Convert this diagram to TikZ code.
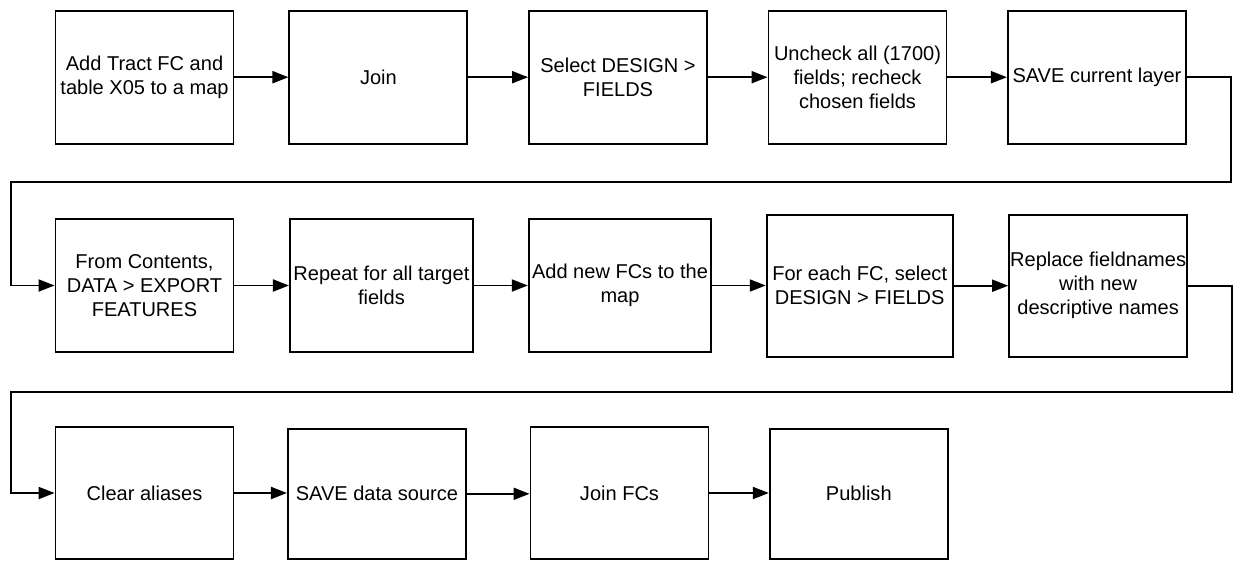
\documentclass[tikz,border=0pt]{standalone}
\usepackage{fontspec}
\setmainfont{Liberation Sans}
\usetikzlibrary{arrows.meta, positioning}

\tikzset{
  stepbox/.style={draw, line width=1.1pt, minimum width=3.56cm, minimum height=2.66cm,
    align=center, inner sep=0.5pt, font=\fontsize{11.4}{13.66}\selectfont},
  flow/.style={line width=1.1pt, -{Triangle[length=0.32cm, width=0.24cm]}},
}

\begin{document}
\begin{tikzpicture}[x=0.02cm, y=-0.02cm]
  \useasboundingbox (0,0) rectangle (1233,561);

  % First row
  \node[stepbox] (a1) at (144.5, 77.2) {Add Tract FC and\\table X05 to a map};
  \node[stepbox] (a2) at (378.4, 77.2) {Join};
  \node[stepbox] (a3) at (618.0, 77.2) {Select DESIGN >\\FIELDS};
  \node[stepbox] (a4) at (857.5, 77.2) {Uncheck all (1700)\\fields; recheck\\chosen fields};
  \node[stepbox] (a5) at (1096.9, 77.2) {SAVE current layer};

  % Second row
  \node[stepbox] (b1) at (144.5, 285.5) {From Contents,\\DATA > EXPORT\\FEATURES};
  \node[stepbox, minimum width=3.66cm] (b2) at (381.4, 285.5) {Repeat for all target\\fields};
  \node[stepbox, minimum width=3.65cm] (b3) at (620.0, 285.5) {Add new FCs to the\\map};
  \node[stepbox, minimum width=3.72cm, minimum height=2.84cm] (b4) at (859.7, 285.7)
    {For each FC, select\\DESIGN > FIELDS};
  \node[stepbox, minimum height=2.84cm] (b5) at (1098.1, 285.7)
    {Replace fieldnames\\with new\\descriptive names};

  % Third row
  \node[stepbox, minimum height=2.64cm] (c1) at (144.5, 493.0) {Clear aliases};
  \node[stepbox, minimum height=2.6cm] (c2) at (376.9, 493.8) {SAVE data source};
  \node[stepbox, minimum height=2.64cm] (c3) at (619.5, 493.0) {Join FCs};
  \node[stepbox, minimum height=2.6cm] (c4) at (858.8, 493.6) {Publish};

  % Turning points between rows
  \coordinate (r1) at (1230.6, 181.7);
  \coordinate (l1) at (10.7, 181.7);
  \coordinate (r2) at (1231.8, 392.3);
  \coordinate (l2) at (10.7, 392.3);

  % Arrows along the rows
  \draw[flow] (a1) -- (a2);
  \draw[flow] (a2) -- (a3);
  \draw[flow] (a3) -- (a4);
  \draw[flow] (a4) -- (a5);
  \draw[flow] (a5.east) -| (r1) -- (l1) |- (b1.west);

  \draw[flow] (b1) -- (b2);
  \draw[flow] (b2) -- (b3);
  \draw[flow] (b3) -- (b4.west |- b3);
  \draw[flow] (b4) -- (b5);
  \draw[flow] (b5.east) -| (r2) -- (l2) |- (c1.west);

  \draw[flow] (c1.east) -- (c2.west |- c1.east);
  \draw[flow] (c2.east) -- (c3.west |- c2.east);
  \draw[flow] (c3.east) -- (c4.west |- c3.east);
\end{tikzpicture}
\end{document}
